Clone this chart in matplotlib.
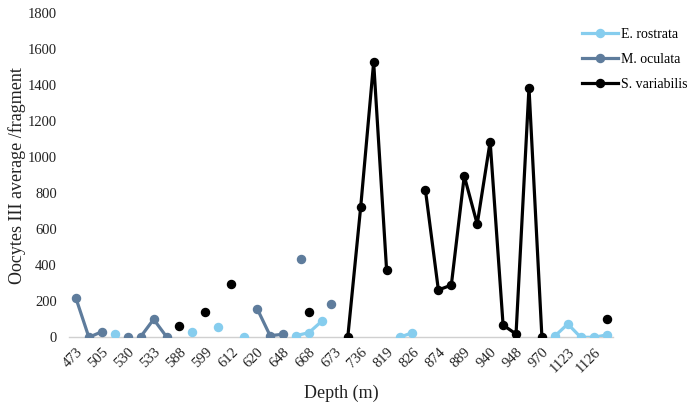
import matplotlib
matplotlib.use("Agg")
import matplotlib.pyplot as plt
from matplotlib.lines import Line2D

# Category tick labels (every other category position carries a label)
depth_labels = ["473", "505", "530", "533", "588", "599", "612", "620", "648", "668",
                "673", "736", "819", "826", "874", "889", "940", "948", "970", "1123", "1126"]
n_categories = 42

# E. rostrata
e_x = [3, 9, 11, 13, 17, 18, 19, 25, 26, 37, 38, 39, 40, 41]
e_y = [17, 31, 57, 0, 9, 26, 90, 0, 26, 7, 74, 0, 0, 13]
e_run = [0, 1, 2, 3, 4, 4, 4, 5, 5, 6, 6, 6, 6, 6]

# M. oculata
m_x = [0, 1, 2, 4, 5, 6, 7, 14, 15, 16, 17.4, 19.7]
m_y = [217, 0, 31, 3, 3, 100, 3, 159, 9, 17, 433, 185]
m_run = [0, 0, 0, 1, 2, 2, 2, 3, 3, 3, 4, 5]

# S. variabilis
s_x = [8, 10, 12, 18, 21, 22, 23, 24, 27, 28, 29, 30, 31, 32, 33, 34, 35, 36, 41]
s_y = [64, 140, 294, 142, 0, 725, 1528, 374, 818, 263, 290, 896, 629, 1087, 68, 18, 1387, 0, 102]
s_run = [0, 1, 2, 3, 4, 4, 4, 4, 5, 5, 5, 5, 5, 5, 5, 5, 5, 5, 6]

names = ["E. rostrata", "M. oculata", "S. variabilis"]
colors = ["#86CDEE", "#5E7C9C", "#000000"]

plt.rcParams["font.family"] = ["Liberation Serif", "DejaVu Serif"]

fig = plt.figure(figsize=(6.92, 4.09), dpi=100)
ax = fig.add_axes([0.1004, 0.1753, 0.7856, 0.7922])

series = [(e_x, e_y, e_run), (m_x, m_y, m_run), (s_x, s_y, s_run)]
for (xs, ys, runs), col in zip(series, colors):
    for r in sorted(set(runs)):
        gx = [x for x, rr in zip(xs, runs) if rr == r]
        gy = [y for y, rr in zip(ys, runs) if rr == r]
        ax.plot(gx, gy, color=col, lw=2.3, marker="o", ms=5.8,
                markeredgecolor=col, solid_capstyle="round", zorder=3)

ax.set_xlim(-0.5, n_categories - 0.5)
ax.set_ylim(0, 1800)
ax.set_yticks(range(0, 1801, 200))
ax.set_xticks(range(0, n_categories, 2))
ax.set_xticklabels(depth_labels, rotation=45, ha="right", rotation_mode="anchor")
ax.tick_params(axis="both", length=0, labelsize=10.5, colors="#222222")
ax.tick_params(axis="x", pad=6)
ax.tick_params(axis="y", pad=9)

for s in ["top", "right", "left"]:
    ax.spines[s].set_visible(False)
ax.spines["bottom"].set_color("#d0d0d0")
ax.spines["bottom"].set_linewidth(1.0)

fig.text(17 / 692, 0.5717, "Oocytes III average /fragment", rotation=90,
         ha="center", va="center", fontsize=13, color="#222222")
ax.set_xlabel("Depth (m)", fontsize=13, color="#222222", labelpad=7)

handles = [Line2D([0], [0], color=c, lw=2.3, marker="o", ms=5.8) for c in colors]
ax.legend(handles, names, loc="upper left", bbox_to_anchor=(582 / 692, 1 - 28 / 409),
          bbox_transform=fig.transFigure, frameon=False, fontsize=10,
          handlelength=2.6, handletextpad=0.2, labelspacing=0.85,
          borderaxespad=0, borderpad=0)

fig.savefig("out.png", dpi=100)
